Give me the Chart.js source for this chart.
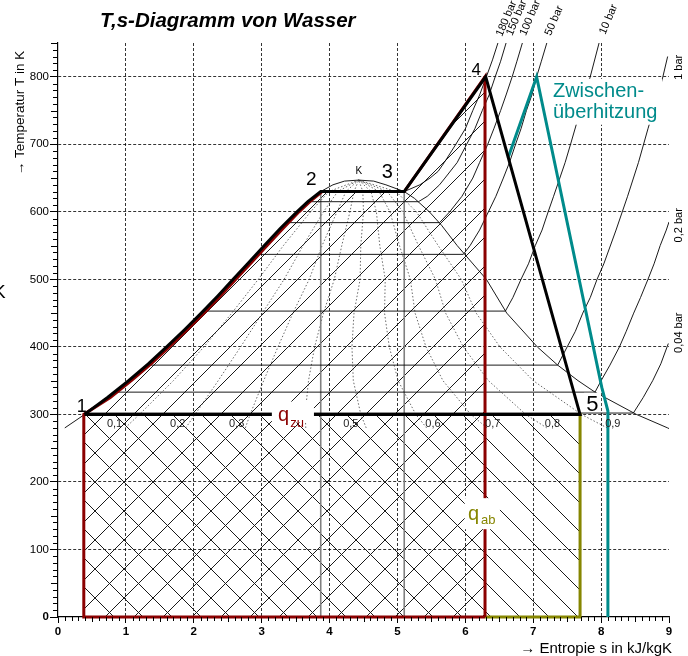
<!DOCTYPE html>
<html>
<head>
<meta charset="utf-8">
<title>T,s-Diagramm von Wasser</title>
<script src="https://cdn.jsdelivr.net/npm/chart.js@4/dist/chart.umd.min.js"></script>
<style>
  html, body { margin: 0; padding: 0; background: #fff; }
  canvas { display: block; }
</style>
</head>
<body>
<canvas id="chart" width="688" height="656"></canvas>
<script>
// Achsen (s in kJ/kgK, T in K)
const sTicks = [0, 1, 2, 3, 4, 5, 6, 7, 8, 9];
const tTicks = [0, 100, 200, 300, 400, 500, 600, 700, 800];

// Grenzkurven [s, T]
const boilingLine = [[0.10, 280], [0.393, 300], [0.73, 325], [1.04, 350], [1.33, 375], [1.60, 400], [1.86, 425], [2.11, 450], [2.35, 475], [2.58, 500], [2.81, 525], [3.04, 550], [3.27, 575], [3.52, 600], [3.68, 615], [3.87, 630], [4.05, 640], [4.22, 645.5], [4.43, 647]];
const dewLine = [[4.43, 647], [4.65, 645.5], [4.83, 640], [5.10, 630], [5.25, 620], [5.47, 600], [5.65, 580], [5.88, 550], [6.31, 500], [6.61, 450], [7.06, 400], [7.36, 373], [7.66, 350], [7.91, 333], [8.52, 300], [8.98, 280], [9.0, 279]];

// Isobaren [s, T]
const isobar180 = [[3.87, 630], [5.10, 630], [5.33, 640], [5.48, 650], [5.60, 660], [5.69, 673], [5.86, 700], [6.00, 723], [6.11, 750], [6.21, 773], [6.31, 800], [6.40, 825], [6.48, 850]];
const isobar150 = [[3.68, 615], [5.31, 615], [5.44, 623], [5.62, 640], [5.70, 650], [5.88, 673], [6.02, 700], [6.14, 723], [6.25, 750], [6.35, 773], [6.44, 800], [6.52, 823], [6.60, 850]];
const isobar100 = [[3.36, 584], [5.62, 584], [5.77, 600], [5.95, 623], [6.11, 650], [6.21, 673], [6.33, 700], [6.42, 723], [6.52, 750], [6.60, 773], [6.69, 800], [6.76, 823], [6.84, 850]];
const isobar50 = [[2.92, 537], [5.97, 537], [6.07, 550], [6.21, 573], [6.34, 600], [6.45, 623], [6.56, 650], [6.65, 673], [6.74, 700], [6.82, 723], [6.90, 750], [6.98, 773], [7.05, 800], [7.12, 823], [7.20, 850]];
const isobar10 = [[2.14, 453], [6.59, 453], [6.70, 473], [6.82, 500], [6.93, 523], [7.03, 550], [7.13, 573], [7.22, 600], [7.30, 623], [7.47, 673], [7.55, 700], [7.76, 773], [7.84, 800], [7.97, 850]];
const isobar1 = [[1.30, 373], [7.36, 373], [7.50, 400], [7.62, 423], [7.73, 450], [7.84, 473], [7.94, 500], [8.04, 523], [8.22, 573], [8.39, 623], [8.55, 673], [8.69, 723], [8.84, 773], [8.91, 800], [8.98, 830]];
const isobar02 = [[0.83, 333], [7.91, 333], [8.00, 350], [8.13, 373], [8.27, 400], [8.37, 423], [8.48, 450], [8.58, 473], [8.69, 500], [8.78, 523], [8.87, 550], [8.96, 573], [9.0, 585]];
const isobar004 = [[0.42, 302], [8.475, 302], [8.62, 325], [8.76, 350], [8.88, 375], [8.99, 405]];

// Linien konstanten Dampfgehalts: s-Werte bei den Temperaturen qualityT
const qualityT = [280, 300, 350, 400, 450, 500, 550, 600, 630, 647];
const x01 = [0.99, 1.20, 1.70, 2.15, 2.56, 2.95, 3.32, 3.72, 3.99, 4.43];
const x02 = [1.88, 2.02, 2.36, 2.69, 3.01, 3.33, 3.61, 3.91, 4.12, 4.43];
const x03 = [2.76, 2.83, 3.03, 3.24, 3.46, 3.70, 3.89, 4.11, 4.24, 4.43];
const x04 = [3.65, 3.64, 3.69, 3.78, 3.91, 4.07, 4.18, 4.30, 4.36, 4.43];
const x05 = [4.54, 4.46, 4.35, 4.33, 4.36, 4.45, 4.46, 4.50, 4.49, 4.43];
const x06 = [5.43, 5.27, 5.01, 4.88, 4.81, 4.82, 4.74, 4.69, 4.61, 4.43];
const x07 = [6.32, 6.08, 5.67, 5.42, 5.26, 5.19, 5.03, 4.89, 4.73, 4.43];
const x08 = [7.20, 6.89, 6.34, 5.97, 5.71, 5.56, 5.31, 5.08, 4.85, 4.43];
const x09 = [8.09, 7.71, 7.00, 6.51, 6.16, 5.94, 5.60, 5.28, 4.98, 4.43];

// Kreisprozess
const cyclePath = [[0.39, 300], [0.73, 325], [1.04, 350], [1.33, 375], [1.60, 400], [1.86, 425], [2.11, 450], [2.35, 475], [2.58, 500], [2.81, 525], [3.04, 550], [3.27, 575], [3.52, 600], [3.68, 615], [3.87, 630], [5.10, 630], [6.30, 800], [7.69, 300], [0.39, 300]];
const heatInPath = [[6.29, 0], [0.38, 0], [0.38, 300], [0.77, 325], [1.08, 350], [1.37, 375], [1.64, 400], [1.90, 425], [2.15, 450], [2.39, 475], [2.62, 500], [2.85, 525], [3.08, 550], [3.31, 575], [3.55, 600], [3.71, 615], [3.89, 630], [5.10, 630], [6.29, 800], [6.29, 0]];
const heatOutPath = [[0.39, 300], [7.69, 300], [7.69, 0], [6.29, 0]];
const reheatPath = [[6.63, 680], [7.05, 800], [8.01, 340], [8.10, 305], [8.10, 0]];
const vertical2 = [[3.87, 630], [3.87, 0]];
const vertical3 = [[5.10, 630], [5.10, 0]];
const hatchInArea = [[0.39, 300], [0.73, 325], [1.04, 350], [1.33, 375], [1.60, 400], [1.86, 425], [2.11, 450], [2.35, 475], [2.58, 500], [2.81, 525], [3.04, 550], [3.27, 575], [3.52, 600], [3.68, 615], [3.87, 630], [5.10, 630], [6.30, 800]];
const hatchOutArea = [[0.39, 300], [7.69, 300]];

// Beschriftungen
const stateLabels = [
  { text: '1', s: 0.35, T: 304, size: 18 },
  { text: '2', s: 3.73, T: 640, size: 19 },
  { text: '3', s: 4.85, T: 650, size: 20 },
  { text: '4', s: 6.16, T: 803, size: 17 },
  { text: '5', s: 7.87, T: 305, size: 22 },
  { text: 'K', s: 4.43, T: 656, size: 10 }
];
const qualityNames = ['0,1', '0,2', '0,3', '0,5', '0,6', '0,7', '0,8', '0,9'];
const qualityNameS = [0.72, 1.65, 2.52, 4.20, 5.41, 6.29, 7.17, 8.06];
const isobarNames = ['180 bar', '150 bar', '100 bar', '50 bar', '10 bar'];
const isobarNameS = [6.54, 6.69, 6.89, 7.26, 8.06];
const isobarNameT = [859, 860, 860, 860, 862];
const sideNames = ['1 bar', '0,2 bar', '0,04 bar'];
const sideNameT = [814, 580, 421];
const whiteBoxes = [
  { s0: 3.15, s1: 3.77, T0: 288, T1: 319 },
  { s0: 5.99, s1: 6.51, T0: 130, T1: 176 },
  { s0: 7.75, s1: 8.00, T0: 304, T1: 332 },
  { s0: 7.26, s1: 8.90, T0: 729, T1: 797 }
];

const FONT = '"Liberation Sans", Arial, Helvetica, sans-serif';
const RED = '#8b0000';
const OLIVE = '#868600';
const TEAL = '#008b8b';

const xy = pts => pts.map(([x, y]) => ({ x: x, y: y }));
const zip = (sArr, tArr) => sArr.map((s, i) => [s, tArr[i]]);

function hatchPattern(dir) {
  const d = 29;
  const c = document.createElement('canvas');
  c.width = d; c.height = d;
  const g = c.getContext('2d');
  g.strokeStyle = '#1a1a1a';
  g.lineWidth = 1;
  g.beginPath();
  for (let k = -1; k <= 1; k++) {
    if (dir === '/') {
      const cc = 26 + k * d;
      g.moveTo(-10, cc + 10); g.lineTo(cc + 10, -10);
    } else {
      const cc = 19 + k * d;
      g.moveTo(-10, -10 - cc); g.lineTo(40, 40 - cc);
    }
  }
  g.stroke();
  return g.createPattern(c, 'repeat');
}

function line(pts, color, width, order, extra) {
  return Object.assign({
    data: xy(pts),
    showLine: true,
    borderColor: color,
    borderWidth: width,
    pointRadius: 0,
    pointHoverRadius: 0,
    fill: false,
    order: order,
    clip: 0
  }, extra || {});
}

const qualityLines = [x01, x02, x03, x04, x05, x06, x07, x08, x09].map(arr =>
  line(zip(arr, qualityT), '#444', 0.8, 80, { borderDash: [1.5, 2] }));

const isobars = [isobar180, isobar150, isobar100, isobar50, isobar10, isobar1, isobar02, isobar004].map(arr =>
  line(arr, '#000', 0.9, 70));

const datasets = [
  line(hatchOutArea, 'rgba(0,0,0,0)', 0, 101, { fill: 'origin', backgroundColor: hatchPattern('\\') }),
  line(hatchInArea, 'rgba(0,0,0,0)', 0, 100, { fill: 'origin', backgroundColor: hatchPattern('/') }),
  ...qualityLines,
  line(vertical2, '#808080', 1.6, 75),
  line(vertical3, '#808080', 1.6, 75),
  line(boilingLine, '#000', 0.9, 70),
  line(dewLine, '#000', 0.9, 70),
  ...isobars,
  line(heatOutPath, OLIVE, 3, 30, { clip: 4 }),
  line(reheatPath, TEAL, 3, 25, { clip: 4 }),
  line(heatInPath, RED, 3, 20, { clip: 4 }),
  line(cyclePath, '#000', 3, 10, { clip: 4 })
];

function text(ctx, str, x, y, font, color, align, baseline) {
  ctx.font = font;
  ctx.fillStyle = color;
  ctx.textAlign = align || 'left';
  ctx.textBaseline = baseline || 'alphabetic';
  ctx.fillText(str, x, y);
}

const decorations = {
  id: 'decorations',
  afterDatasetsDraw(chart) {
    const { ctx, scales: { x, y } } = chart;
    const px = s => x.getPixelForValue(s);
    const py = T => y.getPixelForValue(T);
    ctx.save();
    ctx.fillStyle = '#fff';
    whiteBoxes.forEach(b => {
      ctx.fillRect(px(b.s0), py(b.T1), px(b.s1) - px(b.s0), py(b.T0) - py(b.T1));
    });
    stateLabels.forEach(l => text(ctx, l.text, px(l.s), py(l.T), l.size + 'px ' + FONT, '#000', 'center'));
    qualityNames.forEach((n, i) => text(ctx, n, px(qualityNameS[i]), py(282), '11px ' + FONT, '#222'));
    // q_zu
    text(ctx, 'q', px(3.24), py(290), '20px ' + FONT, RED);
    text(ctx, 'zu', px(3.42), py(281), '13px ' + FONT, RED);
    // q_ab
    text(ctx, 'q', px(6.04), py(143.5), '20px ' + FONT, OLIVE);
    text(ctx, 'ab', px(6.23), py(137.5), '13px ' + FONT, OLIVE);
    // Zwischenüberhitzung
    text(ctx, 'Zwischen-', px(7.29), py(770), '20px ' + FONT, TEAL);
    text(ctx, 'überhitzung', px(7.29), py(739), '20px ' + FONT, TEAL);
    ctx.restore();
  },
  afterDraw(chart) {
    const { ctx, scales: { x, y }, chartArea: a } = chart;
    const px = s => x.getPixelForValue(s);
    const py = T => y.getPixelForValue(T);
    ctx.save();
    // Zwischenstriche
    ctx.strokeStyle = '#000';
    ctx.lineWidth = 1;
    ctx.beginPath();
    for (let i = 1; i < 90; i++) {
      if (i % 10 === 0) continue;
      const p = Math.round(px(i / 10)) + 0.5;
      ctx.moveTo(p, a.bottom); ctx.lineTo(p, a.bottom + (i % 5 === 0 ? 5 : 4));
    }
    for (let i = 1; i <= 85; i++) {
      if (i % 10 === 0) continue;
      const p = Math.round(py(i * 10)) + 0.5;
      ctx.moveTo(a.left, p); ctx.lineTo(a.left - (i % 5 === 0 ? 7 : 5), p);
    }
    ctx.stroke();

    // Isobaren-Beschriftung oben (schräg)
    isobarNames.forEach((n, i) => {
      ctx.save();
      ctx.translate(px(isobarNameS[i]), py(isobarNameT[i]));
      ctx.rotate(-67 * Math.PI / 180);
      text(ctx, n, 0, 0, '11px ' + FONT, '#000');
      ctx.restore();
    });
    // Isobaren-Beschriftung rechts
    sideNames.forEach((n, i) => {
      ctx.save();
      ctx.translate(679, py(sideNameT[i]));
      ctx.rotate(-Math.PI / 2);
      text(ctx, n, 0, 0, '11px ' + FONT, '#000', 'center', 'middle');
      ctx.restore();
    });

    // Titel und Achsentitel
    text(ctx, 'T,s-Diagramm von Wasser', 100, 27, 'italic bold 20.5px ' + FONT, '#000');
    text(ctx, '\u2192 Entropie s in kJ/kgK', 672, 653, '15px ' + FONT, '#000', 'right');
    ctx.save();
    ctx.translate(24, 113);
    ctx.rotate(-Math.PI / 2);
    text(ctx, '\u2192 Temperatur T in K', 0, 0, '13.5px ' + FONT, '#000', 'center');
    ctx.restore();
    text(ctx, 'K', -7, 298, '19px ' + FONT, '#000');
    ctx.restore();
  }
};

new Chart(document.getElementById('chart'), {
  type: 'scatter',
  data: { datasets: datasets },
  options: {
    responsive: false,
    animation: false,
    devicePixelRatio: 1,
    layout: { padding: { left: 0, top: 43, right: 19, bottom: 0 } },
    plugins: {
      legend: { display: false },
      tooltip: { enabled: false },
      title: { display: false }
    },
    scales: {
      x: {
        type: 'linear',
        min: 0,
        max: 9,
        afterBuildTicks: s => { s.ticks = sTicks.map(v => ({ value: v })); },
        afterFit: s => { s.height = 39; },
        ticks: {
          color: '#000',
          padding: 2,
          autoSkip: false,
          maxRotation: 0,
          font: { family: FONT, size: 11.5, weight: 'bold' }
        },
        grid: {
          color: c => (c.tick && (c.tick.value === 0 || c.tick.value === 9)) ? 'rgba(0,0,0,0)' : '#000',
          lineWidth: 0.8,
          tickLength: 6,
          tickColor: '#000',
          tickWidth: 1
        },
        border: { display: true, color: '#000', width: 1.2, dash: [3, 2] }
      },
      y: {
        type: 'linear',
        min: 0,
        max: 850,
        afterBuildTicks: s => { s.ticks = tTicks.map(v => ({ value: v })); },
        afterFit: s => { s.width = 58; },
        ticks: {
          color: '#000',
          padding: 1,
          autoSkip: false,
          font: c => ({ family: FONT, size: 11.5, weight: (c.tick && c.tick.value === 0) ? 'bold' : 'normal' })
        },
        grid: {
          color: c => (c.tick && c.tick.value === 0) ? 'rgba(0,0,0,0)' : '#000',
          lineWidth: 0.8,
          tickLength: 8,
          tickColor: '#000',
          tickWidth: 1
        },
        border: { display: true, color: '#000', width: 1.2, dash: [3, 2] }
      }
    }
  },
  plugins: [decorations]
});
</script>
</body>
</html>
